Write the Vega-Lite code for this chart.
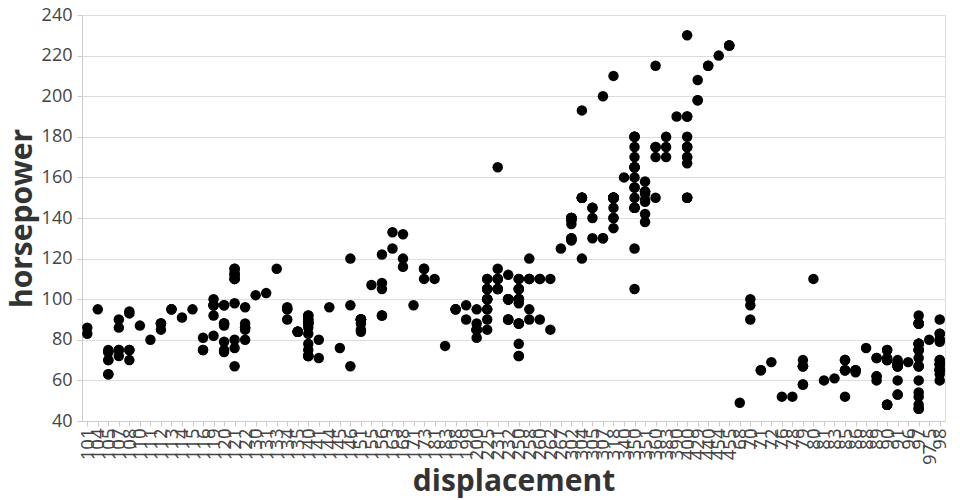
{
  "$schema": "https://vega.github.io/schema/vega-lite/v6.json",
  "width": 960,
  "height": 500,
  "autosize": {"type": "fit", "contains": "padding"},
  "padding": {"left": 7, "right": 11, "top": 6, "bottom": 3},
  "config": {
    "font": "Open Sans",
    "axis": {"labelFontSize": 18, "titleFontSize": 30, "labelColor": "#444", "titleColor": "#333", "gridColor": "#ddd", "domainColor": "#ccc", "tickColor": "#ccc"},
    "axisX": {"labelFontSize": 18.5, "titlePadding": 2},
    "axisY": {"labelPadding": 5},
    "view": {"stroke": "#ddd"}
  },
  "data": {"values": [
{"displacement":"307","horsepower":130},{"displacement":"350","horsepower":165},{"displacement":"318","horsepower":150},{"displacement":"304","horsepower":150},{"displacement":"302","horsepower":140},{"displacement":"429","horsepower":198},{"displacement":"454","horsepower":220},{"displacement":"440","horsepower":215},{"displacement":"455","horsepower":225},{"displacement":"390","horsepower":190},{"displacement":"383","horsepower":170},{"displacement":"340","horsepower":160},{"displacement":"400","horsepower":150},{"displacement":"455","horsepower":225},{"displacement":"113","horsepower":95},{"displacement":"198","horsepower":95},{"displacement":"199","horsepower":97},{"displacement":"200","horsepower":85},{"displacement":"97","horsepower":88},{"displacement":"97","horsepower":46},{"displacement":"110","horsepower":87},{"displacement":"107","horsepower":90},{"displacement":"104","horsepower":95},{"displacement":"121","horsepower":113},{"displacement":"199","horsepower":90},{"displacement":"360","horsepower":215},{"displacement":"307","horsepower":200},{"displacement":"318","horsepower":210},{"displacement":"304","horsepower":193},{"displacement":"133","horsepower":115},{"displacement":"350","horsepower":165},{"displacement":"351","horsepower":153},{"displacement":"383","horsepower":175},{"displacement":"360","horsepower":175},{"displacement":"302","horsepower":140},
{"displacement":"97","horsepower":88},{"displacement":"140","horsepower":90},{"displacement":"113","horsepower":95},{"displacement":"232","horsepower":100},{"displacement":"225","horsepower":105},{"displacement":"250","horsepower":100},{"displacement":"250","horsepower":88},{"displacement":"232","horsepower":100},{"displacement":"350","horsepower":165},{"displacement":"400","horsepower":175},{"displacement":"351","horsepower":153},{"displacement":"318","horsepower":150},{"displacement":"383","horsepower":180},{"displacement":"400","horsepower":170},{"displacement":"400","horsepower":175},{"displacement":"258","horsepower":110},{"displacement":"140","horsepower":72},{"displacement":"250","horsepower":100},{"displacement":"250","horsepower":88},{"displacement":"101","horsepower":86},{"displacement":"90","horsepower":70},{"displacement":"79","horsepower":70},{"displacement":"88","horsepower":76},{"displacement":"71","horsepower":65},{"displacement":"72","horsepower":69},{"displacement":"97","horsepower":60},{"displacement":"91","horsepower":70},{"displacement":"97","horsepower":48},
{"displacement":"113","horsepower":95},{"displacement":"97.5","horsepower":80},{"displacement":"97","horsepower":54},{"displacement":"140","horsepower":90},{"displacement":"122","horsepower":86},{"displacement":"350","horsepower":165},{"displacement":"400","horsepower":175},{"displacement":"318","horsepower":150},{"displacement":"351","horsepower":153},{"displacement":"304","horsepower":150},{"displacement":"429","horsepower":208},{"displacement":"350","horsepower":155},{"displacement":"350","horsepower":160},{"displacement":"400","horsepower":190},{"displacement":"70","horsepower":97},{"displacement":"304","horsepower":150},{"displacement":"307","horsepower":130},{"displacement":"302","horsepower":140},{"displacement":"318","horsepower":150},{"displacement":"121","horsepower":112},{"displacement":"121","horsepower":76},{"displacement":"120","horsepower":87},{"displacement":"96","horsepower":69},{"displacement":"122","horsepower":86},{"displacement":"97","horsepower":92},{"displacement":"120","horsepower":97},{"displacement":"98","horsepower":80},{"displacement":"97","horsepower":88},
{"displacement":"350","horsepower":175},{"displacement":"304","horsepower":150},{"displacement":"350","horsepower":145},{"displacement":"302","horsepower":137},{"displacement":"318","horsepower":150},{"displacement":"429","horsepower":198},{"displacement":"400","horsepower":150},{"displacement":"351","horsepower":158},{"displacement":"318","horsepower":150},{"displacement":"440","horsepower":215},{"displacement":"455","horsepower":225},{"displacement":"360","horsepower":175},{"displacement":"225","horsepower":105},{"displacement":"250","horsepower":100},{"displacement":"232","horsepower":100},{"displacement":"250","horsepower":88},{"displacement":"198","horsepower":95},{"displacement":"97","horsepower":46},{"displacement":"400","horsepower":150},{"displacement":"400","horsepower":167},{"displacement":"360","horsepower":170},{"displacement":"350","horsepower":180},{"displacement":"232","horsepower":100},{"displacement":"97","horsepower":88},{"displacement":"140","horsepower":72},{"displacement":"108","horsepower":94},{"displacement":"70","horsepower":90},{"displacement":"122","horsepower":85},{"displacement":"155","horsepower":107},{"displacement":"98","horsepower":90},{"displacement":"350","horsepower":145},{"displacement":"400","horsepower":230},{"displacement":"68","horsepower":49},{"displacement":"116","horsepower":75},{"displacement":"114","horsepower":91},{"displacement":"121","horsepower":112},{"displacement":"318","horsepower":150},{"displacement":"121","horsepower":110},{"displacement":"156","horsepower":122},{"displacement":"350","horsepower":180},
{"displacement":"198","horsepower":95},{"displacement":"232","horsepower":100},{"displacement":"250","horsepower":100},{"displacement":"79","horsepower":67},{"displacement":"122","horsepower":80},{"displacement":"71","horsepower":65},{"displacement":"140","horsepower":75},{"displacement":"250","horsepower":100},{"displacement":"258","horsepower":110},{"displacement":"225","horsepower":105},{"displacement":"302","horsepower":140},{"displacement":"350","horsepower":150},{"displacement":"318","horsepower":150},{"displacement":"302","horsepower":140},{"displacement":"304","horsepower":150},{"displacement":"98","horsepower":83},{"displacement":"79","horsepower":67},{"displacement":"97","horsepower":78},{"displacement":"76","horsepower":52},{"displacement":"83","horsepower":61},{"displacement":"90","horsepower":75},{"displacement":"90","horsepower":75},{"displacement":"116","horsepower":75},{"displacement":"120","horsepower":97},{"displacement":"108","horsepower":93},{"displacement":"79","horsepower":67},
{"displacement":"225","horsepower":95},{"displacement":"250","horsepower":105},{"displacement":"250","horsepower":72},{"displacement":"250","horsepower":72},{"displacement":"400","horsepower":170},{"displacement":"350","horsepower":145},{"displacement":"318","horsepower":150},{"displacement":"351","horsepower":148},{"displacement":"231","horsepower":110},{"displacement":"250","horsepower":105},{"displacement":"258","horsepower":110},{"displacement":"225","horsepower":95},{"displacement":"231","horsepower":110},{"displacement":"262","horsepower":110},{"displacement":"302","horsepower":129},{"displacement":"97","horsepower":75},{"displacement":"140","horsepower":83},{"displacement":"232","horsepower":100},{"displacement":"140","horsepower":78},{"displacement":"134","horsepower":96},{"displacement":"90","horsepower":71},{"displacement":"119","horsepower":97},{"displacement":"171","horsepower":97},{"displacement":"90","horsepower":70},{"displacement":"232","horsepower":90},{"displacement":"115","horsepower":95},{"displacement":"120","horsepower":88},{"displacement":"121","horsepower":98},{"displacement":"121","horsepower":115},{"displacement":"91","horsepower":53},
{"displacement":"107","horsepower":86},{"displacement":"116","horsepower":81},{"displacement":"140","horsepower":92},{"displacement":"98","horsepower":79},{"displacement":"101","horsepower":83},{"displacement":"305","horsepower":140},{"displacement":"318","horsepower":150},{"displacement":"304","horsepower":120},{"displacement":"351","horsepower":152},{"displacement":"225","horsepower":100},{"displacement":"250","horsepower":105},{"displacement":"200","horsepower":81},{"displacement":"232","horsepower":90},{"displacement":"85","horsepower":52},{"displacement":"98","horsepower":60},{"displacement":"90","horsepower":70},{"displacement":"91","horsepower":53},{"displacement":"225","horsepower":100},{"displacement":"250","horsepower":78},{"displacement":"250","horsepower":110},{"displacement":"258","horsepower":95},{"displacement":"97","horsepower":71},{"displacement":"85","horsepower":70},{"displacement":"97","horsepower":75},{"displacement":"140","horsepower":72},{"displacement":"130","horsepower":102},{"displacement":"318","horsepower":150},{"displacement":"120","horsepower":88},{"displacement":"156","horsepower":108},{"displacement":"168","horsepower":120},{"displacement":"350","horsepower":180},{"displacement":"350","horsepower":145},{"displacement":"302","horsepower":130},{"displacement":"318","horsepower":150},
{"displacement":"98","horsepower":68},{"displacement":"111","horsepower":80},{"displacement":"79","horsepower":58},{"displacement":"122","horsepower":96},{"displacement":"85","horsepower":70},{"displacement":"305","horsepower":145},{"displacement":"260","horsepower":110},{"displacement":"318","horsepower":145},{"displacement":"302","horsepower":130},{"displacement":"250","horsepower":110},{"displacement":"231","horsepower":105},{"displacement":"225","horsepower":100},{"displacement":"250","horsepower":98},{"displacement":"400","horsepower":180},{"displacement":"350","horsepower":170},{"displacement":"400","horsepower":190},{"displacement":"351","horsepower":149},{"displacement":"97","horsepower":78},{"displacement":"151","horsepower":88},{"displacement":"97","horsepower":75},{"displacement":"140","horsepower":89},{"displacement":"98","horsepower":63},{"displacement":"98","horsepower":83},{"displacement":"97","horsepower":67},{"displacement":"97","horsepower":78},{"displacement":"146","horsepower":97},{"displacement":"121","horsepower":110},{"displacement":"80","horsepower":110},
{"displacement":"90","horsepower":48},{"displacement":"98","horsepower":66},{"displacement":"78","horsepower":52},{"displacement":"85","horsepower":70},{"displacement":"91","horsepower":60},{"displacement":"260","horsepower":110},{"displacement":"318","horsepower":140},{"displacement":"302","horsepower":139},{"displacement":"231","horsepower":105},{"displacement":"200","horsepower":95},{"displacement":"200","horsepower":85},{"displacement":"140","horsepower":88},{"displacement":"225","horsepower":100},{"displacement":"258","horsepower":90},{"displacement":"231","horsepower":105},{"displacement":"200","horsepower":85},{"displacement":"225","horsepower":110},{"displacement":"258","horsepower":120},{"displacement":"305","horsepower":145},{"displacement":"231","horsepower":165},{"displacement":"302","horsepower":139},{"displacement":"318","horsepower":140},{"displacement":"98","horsepower":68},{"displacement":"134","horsepower":95},{"displacement":"119","horsepower":97},{"displacement":"105","horsepower":75},{"displacement":"134","horsepower":95},{"displacement":"156","horsepower":105},{"displacement":"151","horsepower":85},{"displacement":"119","horsepower":97},{"displacement":"131","horsepower":103},{"displacement":"163","horsepower":125},{"displacement":"121","horsepower":115},{"displacement":"163","horsepower":133},{"displacement":"89","horsepower":71},{"displacement":"98","horsepower":68},
{"displacement":"231","horsepower":115},{"displacement":"200","horsepower":85},{"displacement":"140","horsepower":88},{"displacement":"232","horsepower":90},{"displacement":"225","horsepower":110},{"displacement":"305","horsepower":130},{"displacement":"302","horsepower":129},{"displacement":"351","horsepower":138},{"displacement":"318","horsepower":135},{"displacement":"350","horsepower":155},{"displacement":"351","horsepower":142},{"displacement":"267","horsepower":125},{"displacement":"360","horsepower":150},{"displacement":"89","horsepower":71},{"displacement":"86","horsepower":65},{"displacement":"98","horsepower":80},{"displacement":"121","horsepower":80},{"displacement":"183","horsepower":77},{"displacement":"350","horsepower":125},{"displacement":"141","horsepower":71},{"displacement":"260","horsepower":90},{"displacement":"105","horsepower":70},{"displacement":"105","horsepower":70},{"displacement":"85","horsepower":65},{"displacement":"91","horsepower":69},{"displacement":"151","horsepower":90},{"displacement":"173","horsepower":115},{"displacement":"173","horsepower":115},{"displacement":"151","horsepower":90},
{"displacement":"90","horsepower":48},{"displacement":"89","horsepower":60},{"displacement":"98","horsepower":70},{"displacement":"86","horsepower":65},{"displacement":"151","horsepower":90},{"displacement":"140","horsepower":88},{"displacement":"151","horsepower":90},{"displacement":"225","horsepower":90},{"displacement":"97","horsepower":78},{"displacement":"134","horsepower":90},{"displacement":"120","horsepower":75},{"displacement":"119","horsepower":92},{"displacement":"108","horsepower":75},{"displacement":"86","horsepower":65},{"displacement":"98","horsepower":65},{"displacement":"85","horsepower":65},{"displacement":"90","horsepower":48},{"displacement":"90","horsepower":48},{"displacement":"121","horsepower":67},{"displacement":"146","horsepower":67},{"displacement":"91","horsepower":67},{"displacement":"97","horsepower":67},{"displacement":"89","horsepower":62},{"displacement":"168","horsepower":132},{"displacement":"70","horsepower":100},{"displacement":"122","horsepower":88},{"displacement":"107","horsepower":72},
{"displacement":"135","horsepower":84},{"displacement":"151","horsepower":84},{"displacement":"156","horsepower":92},{"displacement":"173","horsepower":110},{"displacement":"135","horsepower":84},{"displacement":"79","horsepower":58},{"displacement":"86","horsepower":64},{"displacement":"81","horsepower":60},{"displacement":"97","horsepower":67},{"displacement":"85","horsepower":65},{"displacement":"89","horsepower":62},{"displacement":"91","horsepower":68},{"displacement":"105","horsepower":63},{"displacement":"98","horsepower":65},{"displacement":"98","horsepower":65},{"displacement":"105","horsepower":74},{"displacement":"107","horsepower":75},{"displacement":"108","horsepower":75},{"displacement":"119","horsepower":100},{"displacement":"120","horsepower":74},{"displacement":"141","horsepower":80},{"displacement":"145","horsepower":76},{"displacement":"168","horsepower":116},{"displacement":"146","horsepower":120},{"displacement":"231","horsepower":110},{"displacement":"350","horsepower":105},{"displacement":"200","horsepower":88},{"displacement":"225","horsepower":85},{"displacement":"121","horsepower":110},
{"displacement":"112","horsepower":88},{"displacement":"112","horsepower":88},{"displacement":"112","horsepower":88},{"displacement":"112","horsepower":85},{"displacement":"135","horsepower":84},{"displacement":"151","horsepower":90},{"displacement":"140","horsepower":92},{"displacement":"105","horsepower":74},{"displacement":"91","horsepower":68},{"displacement":"91","horsepower":68},{"displacement":"105","horsepower":63},{"displacement":"98","horsepower":70},{"displacement":"120","horsepower":88},{"displacement":"107","horsepower":75},{"displacement":"108","horsepower":70},{"displacement":"91","horsepower":67},{"displacement":"91","horsepower":67},{"displacement":"91","horsepower":67},{"displacement":"181","horsepower":110},{"displacement":"262","horsepower":85},{"displacement":"156","horsepower":92},{"displacement":"232","horsepower":112},{"displacement":"144","horsepower":96},{"displacement":"135","horsepower":84},{"displacement":"151","horsepower":90},{"displacement":"140","horsepower":86},{"displacement":"97","horsepower":52},{"displacement":"135","horsepower":84},{"displacement":"120","horsepower":79},{"displacement":"119","horsepower":82}
  ]},
  "mark": {"type": "point", "filled": true, "size": 110, "color": "black", "opacity": 1},
  "encoding": {
    "x": {"field": "displacement", "type": "ordinal", "axis": {"labelAngle": -90}},
    "y": {"field": "horsepower", "type": "quantitative", "scale": {"zero": false}}
  }
}
